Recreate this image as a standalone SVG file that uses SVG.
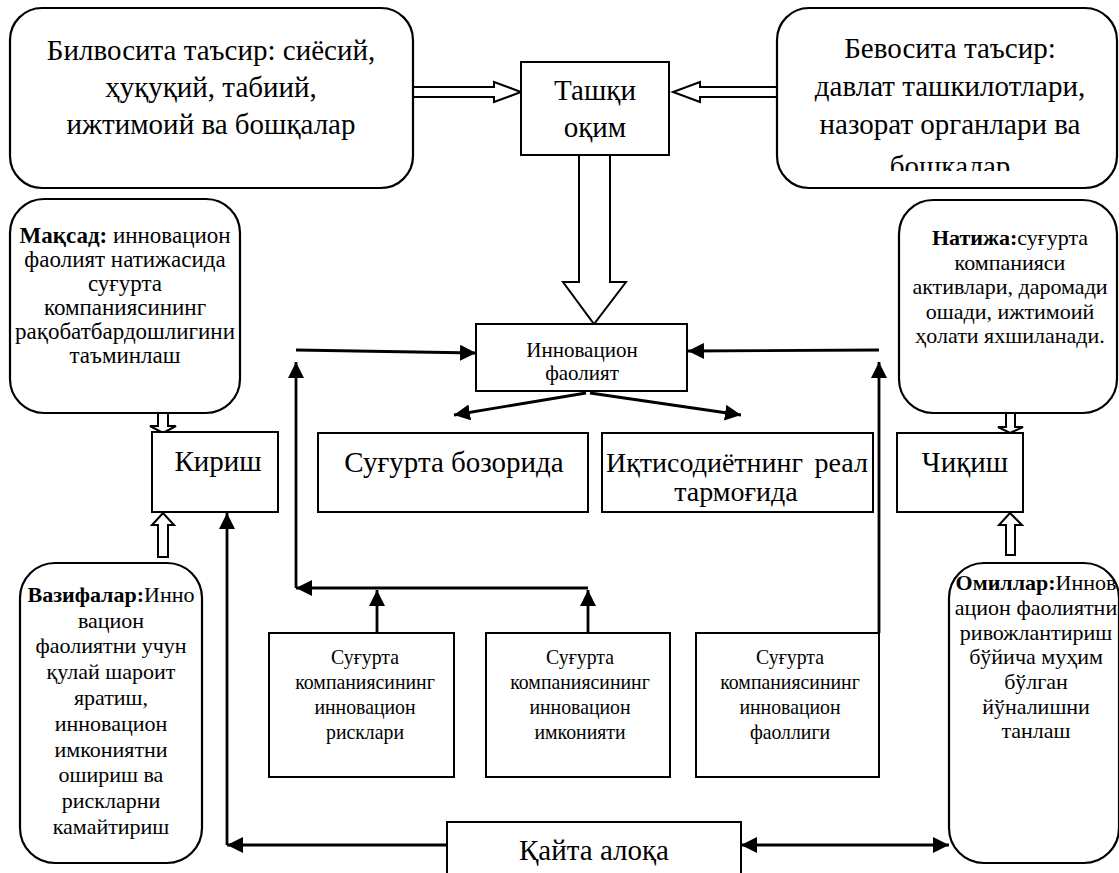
<svg xmlns="http://www.w3.org/2000/svg" width="1119" height="873" viewBox="0 0 1119 873">
<defs>
<style>
.box{fill:#fff;stroke:#000;stroke-width:2}
.rb{fill:#fff;stroke:#000;stroke-width:2.2}
.ha{fill:#fff;stroke:#000;stroke-width:2}
.t{font-family:"Liberation Serif","Times New Roman",serif;fill:#000;text-anchor:middle}
.L{font-size:29px}
.K{font-size:28px}
.M{font-size:22px}
.G{font-size:23px}
.S{font-size:21px}
.b{font-weight:bold}
.c{fill:none;stroke:#000;stroke-width:2.8}
</style>
<marker id="ah" viewBox="0 0 16 16" refX="16" refY="8" markerWidth="16" markerHeight="16" markerUnits="userSpaceOnUse" orient="auto-start-reverse">
<path d="M0,0 L16,8 L0,16 z" fill="#000"/>
</marker>
<clipPath id="clipR"><rect x="777" y="8" width="345" height="163"/></clipPath>
</defs>
<rect width="1119" height="873" fill="#fff"/>

<g id="connectors">
<line class="c" x1="296" y1="350" x2="476" y2="353" marker-end="url(#ah)"/>
<line class="c" x1="879" y1="350" x2="688" y2="351" marker-end="url(#ah)"/>
<line class="c" x1="296" y1="588" x2="296" y2="362" marker-end="url(#ah)"/>
<line class="c" x1="588" y1="588" x2="296" y2="588" marker-end="url(#ah)"/>
<line class="c" x1="377" y1="633" x2="377" y2="590" marker-end="url(#ah)"/>
<line class="c" x1="588" y1="633" x2="588" y2="590" marker-end="url(#ah)"/>
<line class="c" x1="879" y1="633" x2="879" y2="362" marker-end="url(#ah)"/>
<line class="c" x1="586" y1="393" x2="454" y2="415" marker-end="url(#ah)"/>
<line class="c" x1="590" y1="393" x2="741" y2="415" marker-end="url(#ah)"/>
<line class="c" x1="447" y1="845" x2="227" y2="845" marker-end="url(#ah)"/>
<line class="c" x1="227" y1="845" x2="227" y2="513" marker-end="url(#ah)"/>
<line class="c" x1="949" y1="845" x2="741" y2="845" marker-start="url(#ah)" marker-end="url(#ah)"/>
<polygon class="ha" points="413,87 494,87 494,82 521,92 494,102 494,97 413,97"/>
<polygon class="ha" points="777,87 700,87 700,82 673,92 700,102 700,97 777,97"/>
<polygon class="ha" points="579,155 579,282 563,282 594,324 626,282 610,282 610,155"/>
<polygon class="ha" points="158,413 158,426 150,426 163,433 176,426 168,426 168,413"/>
<polygon class="ha" points="158,557 158,525 152,525 163,513 174,525 168,525 168,557"/>
<polygon class="ha" points="1006,413 1006,427 998,427 1010,433 1023,427 1015,427 1015,413"/>
<polygon class="ha" points="1006,555 1006,525 999,525 1010,513 1022,525 1015,525 1015,555"/>
</g>

<g id="n-indirect">
<rect class="rb" x="10" y="8" width="403" height="180" rx="32"/>
<text class="t L" x="211" y="60">Билвосита таъсир: сиёсий,</text>
<text class="t L" x="211" y="97">ҳуқуқий, табиий,</text>
<text class="t L" x="211" y="134">ижтимоий ва бошқалар</text>
</g>

<g id="n-direct">
<rect class="rb" x="777" y="8" width="340" height="180" rx="32"/>
<g clip-path="url(#clipR)">
<text class="t L" x="950" y="58">Бевосита таъсир:</text>
<text class="t L" x="950" y="96">давлат ташкилотлари,</text>
<text class="t L" x="950" y="134">назорат органлари ва</text>
<text class="t L" x="950" y="176">бошқалар</text>
</g>
</g>

<g id="n-external">
<rect class="box" x="521" y="62" width="148" height="93"/>
<text class="t L" x="595" y="100">Ташқи</text>
<text class="t L" x="595" y="137">оқим</text>
</g>

<g id="n-goal">
<rect class="rb" x="10" y="199" width="230" height="214" rx="34"/>
<text class="t G" x="125" y="243"><tspan class="b">Мақсад:</tspan> инновацион</text>
<text class="t G" x="125" y="267">фаолият натижасида</text>
<text class="t G" x="125" y="291">суғурта</text>
<text class="t G" x="125" y="315">компаниясининг</text>
<text class="t G" x="125" y="339">рақобатбардошлигини</text>
<text class="t G" x="125" y="363">таъминлаш</text>
</g>

<g id="n-result">
<rect class="rb" x="899" y="200" width="218" height="213" rx="34"/>
<text class="t M" x="1010" y="245"><tspan class="b">Натижа:</tspan>суғурта</text>
<text class="t M" x="1010" y="270">компанияси</text>
<text class="t M" x="1010" y="294">активлари, даромади</text>
<text class="t M" x="1010" y="319">ошади, ижтимоий</text>
<text class="t M" x="1010" y="343">ҳолати яхшиланади.</text>
</g>

<g id="n-innov">
<rect class="box" x="476" y="324" width="211" height="67"/>
<text class="t S" x="582" y="357">Инновацион</text>
<text class="t S" x="582" y="380">фаолият</text>
</g>

<g id="n-input">
<rect class="box" x="152" y="432" width="126" height="80"/>
<text class="t L" x="218" y="471">Кириш</text>
</g>

<g id="n-output">
<rect class="box" x="897" y="433" width="126" height="79"/>
<text class="t L" x="965" y="472">Чиқиш</text>
</g>

<g id="n-market">
<rect class="box" x="318" y="433" width="270" height="79"/>
<text class="t L" x="454" y="472">Суғурта бозорида</text>
</g>

<g id="n-real">
<rect class="box" x="602" y="433" width="271" height="79"/>
<text class="t K" x="606" y="472" style="text-anchor:start">Иқтисодиётнинг</text>
<text class="t K" x="868" y="472" style="text-anchor:end">реал</text>
<text class="t K" x="736" y="501">тармоғида</text>
</g>

<g id="n-risks">
<rect class="box" x="269" y="633" width="185" height="144"/>
<g transform="translate(365,0) scale(0.9,1)">
<text class="t M" x="0" y="664">Суғурта</text>
<text class="t M" x="0" y="689">компаниясининг</text>
<text class="t M" x="0" y="714">инновацион</text>
<text class="t M" x="0" y="739">рисклари</text>
</g>
</g>

<g id="n-potential">
<rect class="box" x="486" y="633" width="184" height="144"/>
<g transform="translate(580,0) scale(0.9,1)">
<text class="t M" x="0" y="664">Суғурта</text>
<text class="t M" x="0" y="689">компаниясининг</text>
<text class="t M" x="0" y="714">инновацион</text>
<text class="t M" x="0" y="739">имконияти</text>
</g>
</g>

<g id="n-activity">
<rect class="box" x="696" y="633" width="183" height="144"/>
<g transform="translate(790,0) scale(0.9,1)">
<text class="t M" x="0" y="664">Суғурта</text>
<text class="t M" x="0" y="689">компаниясининг</text>
<text class="t M" x="0" y="714">инновацион</text>
<text class="t M" x="0" y="739">фаоллиги</text>
</g>
</g>

<g id="n-tasks">
<rect class="rb" x="20" y="563" width="182" height="300" rx="35"/>
<text class="t M" x="111" y="602"><tspan class="b">Вазифалар:</tspan>Инно</text>
<text class="t M" x="111" y="628">вацион</text>
<text class="t M" x="111" y="653">фаолиятни учун</text>
<text class="t M" x="111" y="679">қулай шароит</text>
<text class="t M" x="111" y="705">яратиш,</text>
<text class="t M" x="111" y="731">инновацион</text>
<text class="t M" x="111" y="757">имкониятни</text>
<text class="t M" x="111" y="782">ошириш ва</text>
<text class="t M" x="111" y="808">рискларни</text>
<text class="t M" x="111" y="834">камайтириш</text>
</g>

<g id="n-factors">
<rect class="rb" x="949" y="563" width="170" height="300" rx="35"/>
<text class="t M" x="1036" y="590"><tspan class="b">Омиллар:</tspan>Иннов</text>
<text class="t M" x="1036" y="615">ацион фаолиятни</text>
<text class="t M" x="1036" y="640">ривожлантириш</text>
<text class="t M" x="1036" y="664">бўйича муҳим</text>
<text class="t M" x="1036" y="689">бўлган</text>
<text class="t M" x="1036" y="714">йўналишни</text>
<text class="t M" x="1036" y="738">танлаш</text>
</g>

<g id="n-feedback">
<rect class="box" x="447" y="822" width="294" height="70"/>
<text class="t L" x="594" y="860">Қайта алоқа</text>
</g>
</svg>
